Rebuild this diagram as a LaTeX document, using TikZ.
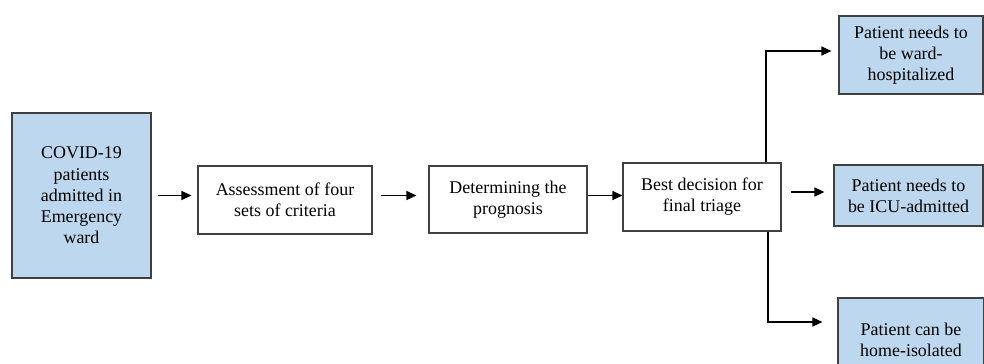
\documentclass[tikz,border=0pt]{standalone}
\usepackage{fontspec}
\setmainfont{Liberation Serif}
\newfontfamily\boxfont{Liberation Serif}
\usetikzlibrary{arrows.meta}
\definecolor{boxblue}{RGB}{189,215,238}
\tikzset{
  box/.style={draw=black!75, line width=1.1bp, align=center, inner sep=0pt,
    font=\boxfont\fontsize{18}{21.3}\selectfont},
  bluebox/.style={box, fill=boxblue},
  arr/.style={line width=1.1bp, -{Triangle[length=10bp,width=9bp]}}
}

\begin{document}
\begin{tikzpicture}[x=1bp,y=-1bp]
\useasboundingbox (0,0) rectangle (984,363);
\clip (0,0) rectangle (984,363);

\node[bluebox, minimum width=139bp, minimum height=165bp] (covid) at (81.5,195.5) {COVID-19\\patients\\admitted in\\Emergency\\ward};
\node[box, minimum width=174bp, minimum height=68bp] (assess) at (285,200) {Assessment of four\\sets of criteria};
\node[box, minimum width=158bp, minimum height=67bp] (prog) at (508,199.5) {Determining the\\prognosis};
\node[box, minimum width=158bp, minimum height=68bp] (best) at (702,197) {Best decision for\\final triage};

\node[bluebox, minimum width=144bp, minimum height=78bp] (ward) at (911,55) {Patient needs to\\be ward-\\hospitalized};
\node[bluebox, minimum width=149bp, minimum height=61bp] (icu) at (908.5,195.5) {Patient needs to\\be ICU-admitted};
\node[bluebox, minimum width=146bp, minimum height=84bp] (home) at (911,340) {Patient can be\\home-isolated};

\draw[arr, shorten <=6bp, shorten >=6bp] (covid.east) -- (covid.east -| assess.west);
\draw[arr, shorten <=8bp, shorten >=12bp] (assess.east |- covid.east) -- (prog.west |- covid.east);
\draw[arr] (prog.east |- covid.east) -- (best.west |- covid.east);

\draw[arr, shorten >=7bp] ([xshift=64bp]best.north) |- ([yshift=4bp]ward.west);
\draw[arr, shorten <=9bp, shorten >=9bp] ([yshift=5bp]best.east) -- ([yshift=5bp]best.east -| icu.west);
\draw[arr, shorten >=15bp] ([xshift=66bp]best.south) |- ([yshift=18bp]home.west);
\end{tikzpicture}
\end{document}
